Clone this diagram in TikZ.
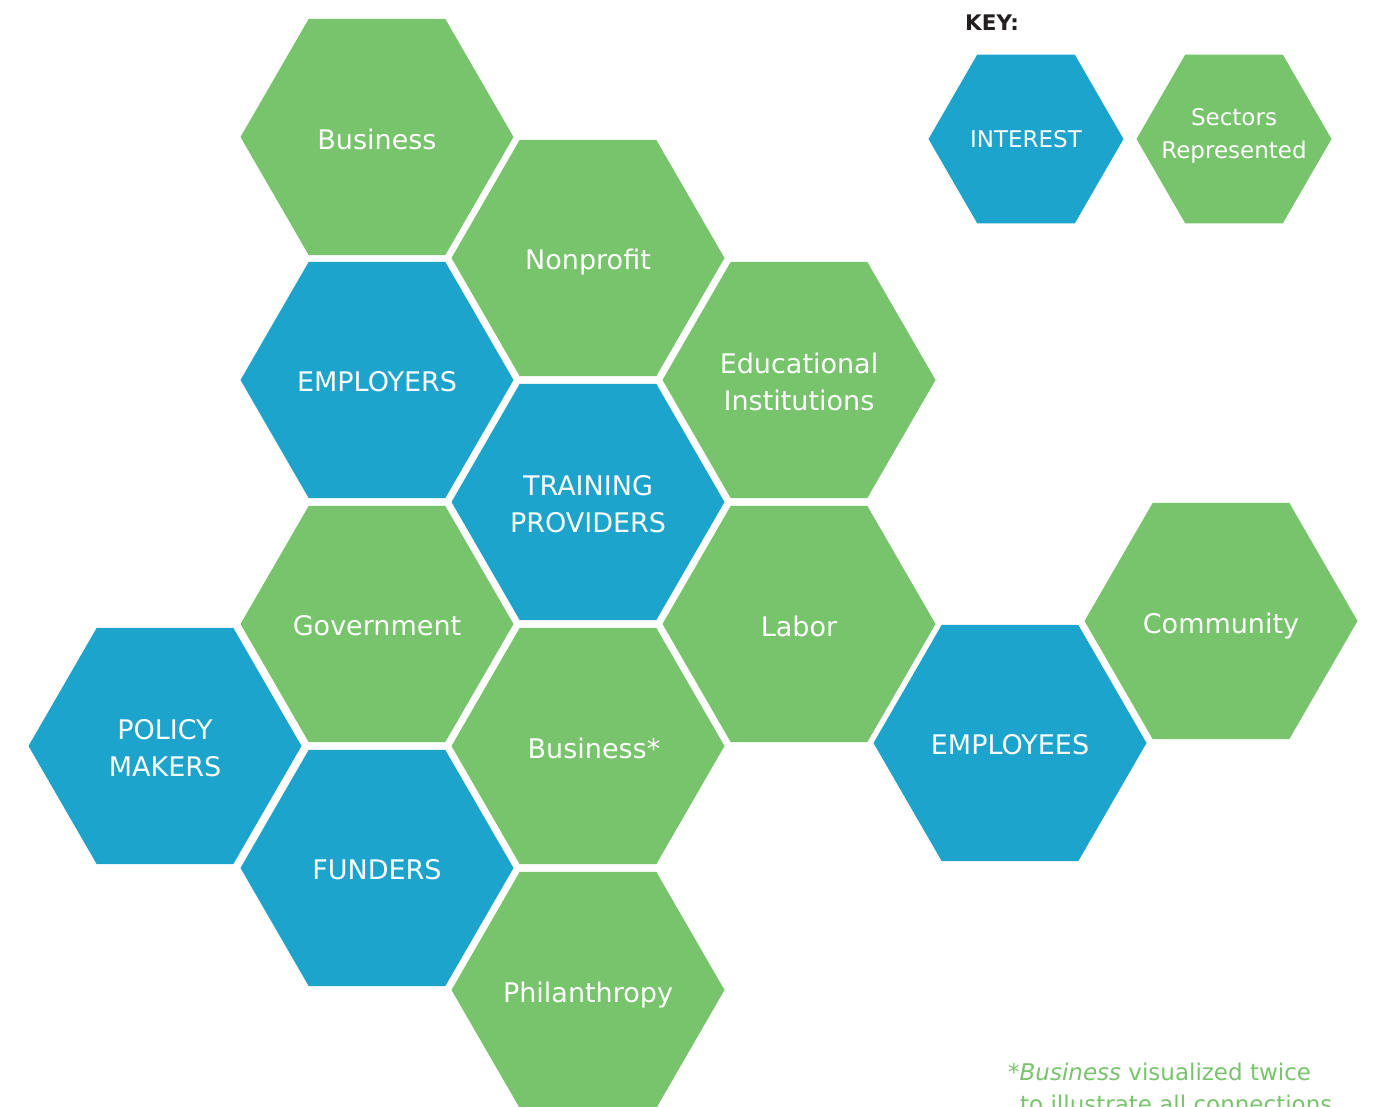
\documentclass[tikz,border=0pt]{standalone}
\usepackage{fontspec}
\setmainfont{DejaVu Sans}
\usetikzlibrary{shapes.geometric}
\definecolor{hexgreen}{RGB}{120,196,108}
\definecolor{hexblue}{RGB}{29,164,204}
\definecolor{keyblack}{RGB}{35,31,32}
\begin{document}
\begin{tikzpicture}[x=1pt,y=-1pt,
  hexbase/.style={regular polygon, regular polygon sides=6, shape border rotate=0,
    minimum size=273pt, inner sep=0pt, outer sep=0pt, draw=none},
  hexg/.style={hexbase, fill=hexgreen},
  hexb/.style={hexbase, fill=hexblue},
  keyhex/.style={minimum size=195pt},
  hextext/.style={text=white, align=center, inner sep=0pt, yshift=-2pt, font=\fontsize{27}{37}\selectfont},
  keytext/.style={hextext, yshift=2pt, font=\fontsize{23}{33}\selectfont},
  notetext/.style={anchor=base west, inner sep=0pt, text=hexgreen, font=\fontsize{23}{30}\selectfont}
]
\useasboundingbox (0,0) rectangle (1375,1107);
\clip (0,0) rectangle (1375,1107);

\node[hexg] (business) at (377,137) {};
\node[hexg] (nonprofit) at (588,258) {};
\node[hexb] (employers) at (377,380) {};
\node[hexg] (educational) at (799,380) {};
\node[hexb] (training) at (588,502) {};
\node[hexg] (government) at (377,624) {};
\node[hexg] (labor) at (799,624) {};
\node[hexb] (policy) at (165,746) {};
\node[hexg] (businesstwo) at (588,746) {};
\node[hexb] (funders) at (377,868) {};
\node[hexg] (philanthropy) at (588,990) {};
\node[hexb] (employees) at (1010,743) {};
\node[hexg] (community) at (1221,621) {};

\node[hextext] (tbusiness) at (business) {Business};
\node[hextext] (tnonprofit) at ([yshift=-2pt]nonprofit.center) {Nonprofit};
\node[hextext] (temployers) at (employers) {EMPLOYERS};
\node[hextext] (teducational) at (educational) {Educational\\Institutions};
\node[hextext] (ttraining) at (training) {TRAINING\\PROVIDERS};
\node[hextext] (tgovernment) at (government) {Government};
\node[hextext] (tlabor) at (labor) {Labor};
\node[hextext] (tpolicy) at (policy) {POLICY\\MAKERS};
\node[hextext] (tbusinesstwo) at ([xshift=6pt]businesstwo.center) {Business*};
\node[hextext] (tfunders) at (funders) {FUNDERS};
\node[hextext] (tphilanthropy) at ([yshift=-3pt]philanthropy.center) {Philanthropy};
\node[hextext] (temployees) at (employees) {EMPLOYEES};
\node[hextext] (tcommunity) at ([yshift=-3pt]community.center) {Community};

\node[anchor=base west, inner sep=0pt, text=keyblack, font=\bfseries\fontsize{21.5}{26}\selectfont] (keytitle) at (965,31) {KEY:};
\node[hexb, keyhex] (keyinterest) at (1026,139) {};
\node[hexg, keyhex] (keysectors) at (1234,139) {};
\node[keytext] (tkeyinterest) at (keyinterest) {INTEREST};
\node[keytext] (tkeysectors) at ([yshift=3pt]keysectors.center) {Sectors\\Represented};

\node[notetext] (noteone) at (1008,1080) {*\textit{Business} visualized twice};
\node[notetext] (notetwo) at (1020,1112) {to illustrate all connections};
\end{tikzpicture}
\end{document}
